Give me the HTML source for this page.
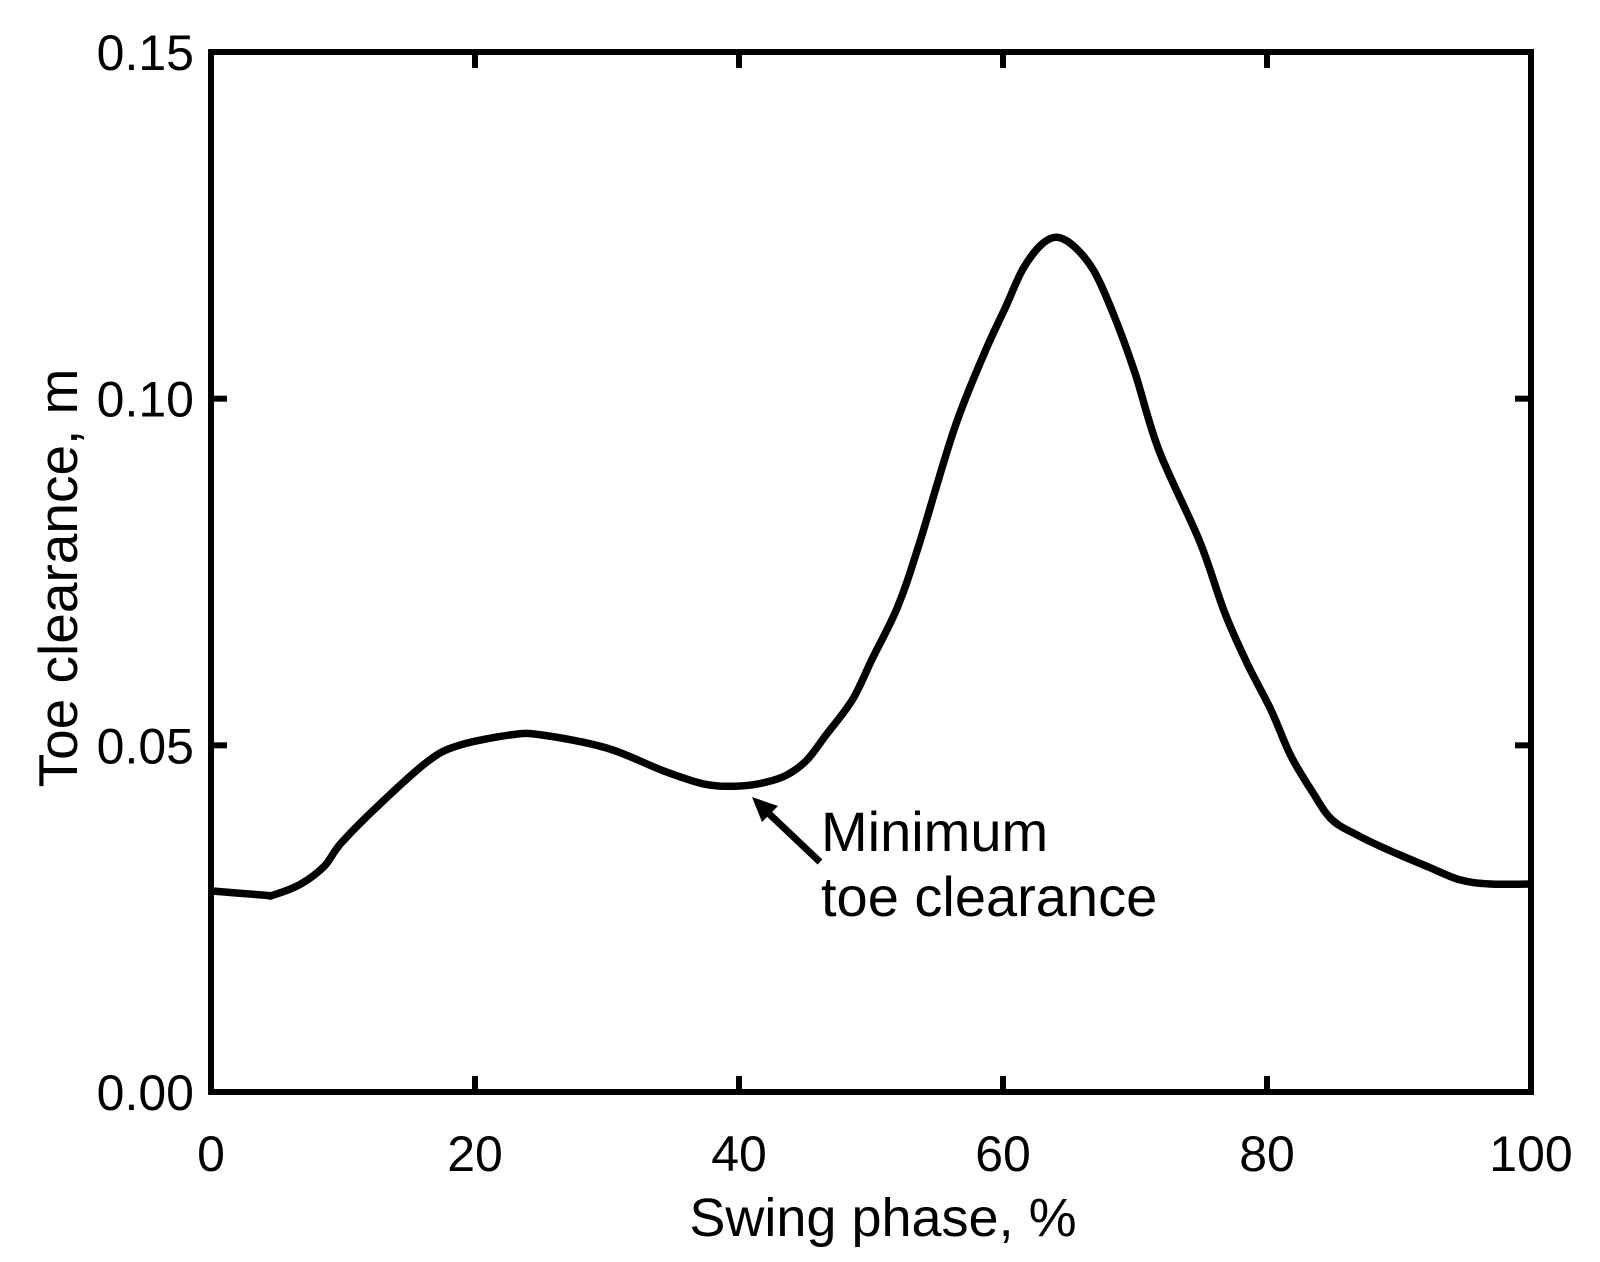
<!DOCTYPE html>
<html><head><meta charset="utf-8"><style>
html,body{margin:0;padding:0;background:#fff;}
svg{display:block;font-family:"Liberation Sans",Arial,sans-serif;}
</style></head><body>
<svg id="chart" width="1600" height="1262" viewBox="0 0 1600 1262" xmlns="http://www.w3.org/2000/svg"></svg>
<script>
const xTicks = [0, 20, 40, 60, 80, 100];
const xTickLabels = ["0", "20", "40", "60", "80", "100"];
const yTicks = [0, 0.05, 0.10, 0.15];
const yTickLabels = ["0.00", "0.05", "0.10", "0.15"];
const swingPhase = [0,4.0,4.7,6.8,8.6,9.9,13.0,16.5,18.8,22.7,25,30,34.3,37.4,39.7,41.6,43.5,45.1,46.6,48.6,50.1,52.0,53.6,56.3,58.6,60.2,61.6,63.3,64.8,66.7,68.3,70.0,71.8,74.9,76.8,78.5,80.3,81.8,83.4,84.9,86.9,89.2,92.3,94.6,96.9,100];
const toeClearance = [0.029,0.0284,0.0284,0.030,0.0326,0.036,0.0419,0.0478,0.050,0.0515,0.0515,0.0496,0.0463,0.0444,0.0441,0.0445,0.0456,0.0478,0.0515,0.0566,0.0625,0.0699,0.0787,0.0956,0.1066,0.1132,0.119,0.1228,0.1228,0.119,0.1125,0.1037,0.0926,0.0794,0.0691,0.0618,0.0551,0.0485,0.0434,0.0393,0.037,0.0349,0.0324,0.0306,0.030,0.030];

const L=211,R=1531,T=52,B=1092;
const xs=v=>L+(v-0)/(100-0)*(R-L);
const ys=v=>B-(v-0)/(0.15-0)*(B-T);
const NS="http://www.w3.org/2000/svg";
const svg=document.getElementById('chart');
function mk(tag,attrs){const e=document.createElementNS(NS,tag);for(const k in attrs)e.setAttribute(k,attrs[k]);svg.appendChild(e);return e;}

xTicks.forEach((t,i)=>{
  const a=mk('line',{x1:xs(t),x2:xs(t),y1:B,y2:B-16,stroke:'#000','stroke-width':6});
  
  
  const b=mk('line',{x1:xs(t),x2:xs(t),y1:T,y2:T+16,stroke:'#000','stroke-width':6});
  
  
  const tx=mk('text',{x:xs(t),y:1171,'text-anchor':'middle','font-size':50});
  tx.textContent=xTickLabels[i];
  
  
});
yTicks.forEach((t,i)=>{
  const a=mk('line',{x1:L,x2:L+16,y1:ys(t),y2:ys(t),stroke:'#000','stroke-width':6});
  
  
  const b=mk('line',{x1:R,x2:R-16,y1:ys(t),y2:ys(t),stroke:'#000','stroke-width':6});
  
  
  const tx=mk('text',{x:194,y:ys(t)+18,'text-anchor':'end','font-size':50});
  tx.textContent=yTickLabels[i];
  
  
});
const frame=mk('rect',{x:L,y:T,width:R-L,height:B-T,fill:'none',stroke:'#000','stroke-width':6});



const P=swingPhase.map((x,i)=>[xs(x),ys(toeClearance[i])]);
let d='M'+P[0][0].toFixed(1)+','+P[0][1].toFixed(1);
for(let i=0;i<P.length-1;i++){
  const p0=P[Math.max(0,i-1)],p1=P[i],p2=P[i+1],p3=P[Math.min(P.length-1,i+2)];
  const c1=[p1[0]+(p2[0]-p0[0])/6,p1[1]+(p2[1]-p0[1])/6];
  const c2=[p2[0]-(p3[0]-p1[0])/6,p2[1]-(p3[1]-p1[1])/6];
  d+=' C'+c1[0].toFixed(1)+','+c1[1].toFixed(1)+' '+c2[0].toFixed(1)+','+c2[1].toFixed(1)+' '+p2[0].toFixed(1)+','+p2[1].toFixed(1);
}
const line=mk('path',{d:d,fill:'none',stroke:'#000','stroke-width':7.5,'stroke-linejoin':'round'});



const arr=mk('line',{x1:820,y1:862,x2:762,y2:807,stroke:'#000','stroke-width':7});


const head=mk('polygon',{points:'752,797 778,806 762,822',fill:'#000'});


const a1=mk('text',{x:821,y:851,'font-size':56});
a1.textContent='Minimum';


const a2=mk('text',{x:821,y:916,'font-size':56});
a2.textContent='toe clearance';



const xt=mk('text',{x:883,y:1236,'text-anchor':'middle','font-size':54});
xt.textContent='Swing phase, %';


const yt=mk('text',{x:0,y:0,'text-anchor':'middle','font-size':55,transform:'translate(77,578) rotate(-90)'});
yt.textContent='Toe clearance, m';


</script>
</body></html>
